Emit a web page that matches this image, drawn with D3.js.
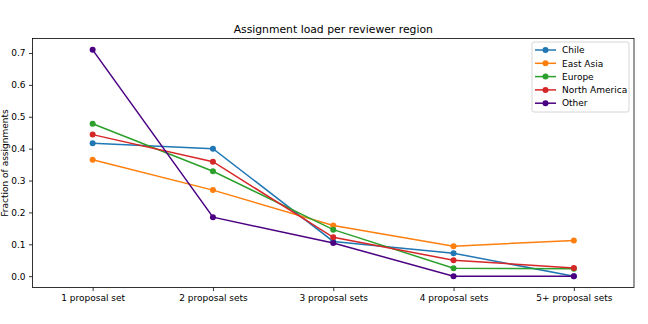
<!DOCTYPE html>
<html>
<head>
<meta charset="utf-8">
<script src="https://cdn.jsdelivr.net/npm/d3@7"></script>
<style>
  body { margin: 0; background: #fff; }
  svg { font-family: "DejaVu Sans", sans-serif; }
</style>
</head>
<body>
<svg id="chart" width="648" height="324"></svg>
<script>
// data
var categories = ['1 proposal set', '2 proposal sets', '3 proposal sets', '4 proposal sets', '5+ proposal sets'];
var regions = ['Chile', 'East Asia', 'Europe', 'North America', 'Other'];
var chile = [0.417, 0.400, 0.109, 0.072, 0.0];
var eastAsia = [0.365, 0.270, 0.159, 0.094, 0.112];
var europe = [0.478, 0.329, 0.146, 0.025, 0.023];
var northAmerica = [0.444, 0.359, 0.122, 0.050, 0.026];
var other = [0.710, 0.185, 0.104, 0.0, 0.0];
var yTicks = [0.0, 0.1, 0.2, 0.3, 0.4, 0.5, 0.6, 0.7];

var series = [chile, eastAsia, europe, northAmerica, other];
var colors = ['#1f77b4', '#ff7f0e', '#2ca02c', '#d62728', '#4b0082'];

var margin = {left: 32.5, top: 38.5, right: 14, bottom: 36.5};
var W = 648, H = 324;
var fs = '9px';
var svg = d3.select('#chart');

var x = d3.scaleLinear()
    .domain([-0.5, categories.length - 0.5])
    .range([margin.left, W - margin.right]);
var y = d3.scaleLinear()
    .domain([-0.0355, 0.7455])
    .range([H - margin.bottom, margin.top]);

// axes
var xAxis = svg.append('g')
    .attr('transform', 'translate(0,' + (H - margin.bottom) + ')')
    .call(d3.axisBottom(x).tickValues(d3.range(categories.length))
        .tickFormat(function(d){ return categories[d]; })
        .tickSize(3.5).tickPadding(4));
var yAxis = svg.append('g')
    .attr('transform', 'translate(' + margin.left + ',0)')
    .call(d3.axisLeft(y).tickValues(yTicks).tickFormat(d3.format('.1f'))
        .tickSize(3.5).tickPadding(3.5));
[xAxis, yAxis].forEach(function(a){
    a.select('.domain').remove();
    a.selectAll('line').attr('stroke', '#000').attr('stroke-width', 0.8);
    a.selectAll('text').attr('font-size', fs).attr('fill', '#000')
        .attr('font-family', '"DejaVu Sans", sans-serif');
});

// frame
svg.append('rect')
    .attr('x', margin.left).attr('y', margin.top)
    .attr('width', W - margin.left - margin.right)
    .attr('height', H - margin.top - margin.bottom)
    .attr('fill', 'none').attr('stroke', '#000').attr('stroke-width', 0.8);

// lines
var line = d3.line()
    .x(function(d, i){ return x(i); })
    .y(function(d){ return y(d); });

series.forEach(function(s, k){
    var g = svg.append('g');
    g.append('path')
        .attr('d', line(s))
        .attr('fill', 'none')
        .attr('stroke', colors[k])
        .attr('stroke-width', 1.5);
    g.selectAll('circle')
        .data(s)
        .enter()
        .append('circle')
        .attr('cx', function(d, i){ return x(i); })
        .attr('cy', function(d){ return y(d); })
        .attr('r', 3)
        .attr('fill', colors[k]);
});

// title and labels
svg.append('text')
    .attr('x', (margin.left + W - margin.right) / 2)
    .attr('y', margin.top - 6)
    .attr('text-anchor', 'middle')
    .attr('font-size', '10.8px')
    .text('Assignment load per reviewer region');

svg.append('text')
    .attr('transform', 'translate(8,' + ((margin.top + H - margin.bottom) / 2) + ') rotate(-90)')
    .attr('text-anchor', 'middle')
    .attr('font-size', fs)
    .text('Fraction of assignments');

// legend
var lg = svg.append('g').attr('transform', 'translate(532,42)');
lg.append('rect')
    .attr('width', 97).attr('height', 70)
    .attr('rx', 2)
    .attr('fill', '#fff').attr('fill-opacity', 0.8)
    .attr('stroke', '#ccc').attr('stroke-width', 0.8);
regions.forEach(function(name, k){
    var ly = 8 + k * 13.3;
    lg.append('line')
        .attr('x1', 3).attr('x2', 24).attr('y1', ly).attr('y2', ly)
        .attr('stroke', colors[k]).attr('stroke-width', 1.5);
    lg.append('circle')
        .attr('cx', 13.5).attr('cy', ly).attr('r', 3).attr('fill', colors[k]);
    lg.append('text')
        .attr('x', 30).attr('y', ly + 3.2)
        .attr('font-size', fs)
        .text(name);
});
</script>
</body>
</html>
